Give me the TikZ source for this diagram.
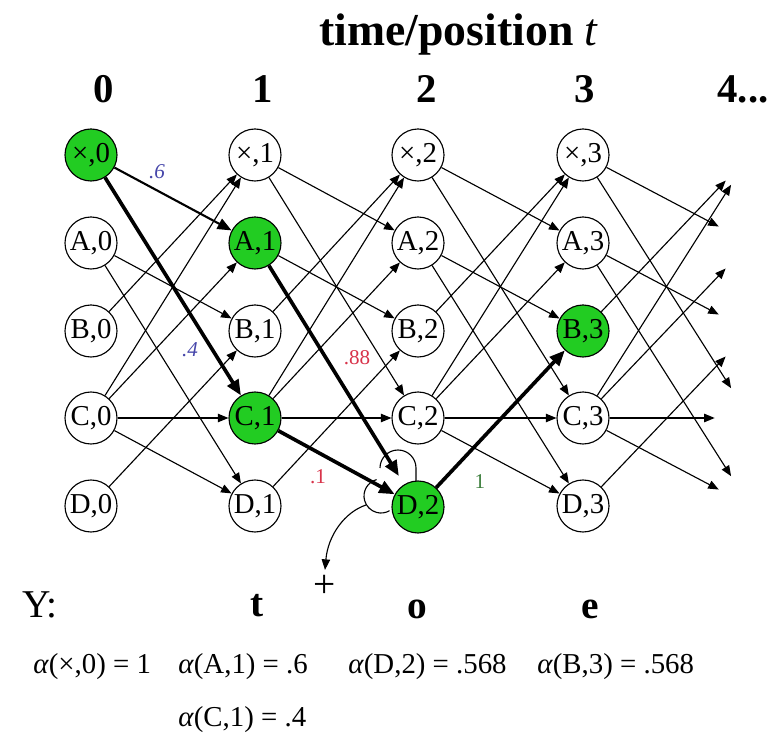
\documentclass[tikz,border=0pt]{standalone}
\usepackage{fontspec}
\setmainfont{Liberation Serif}
\usepackage{xcolor}
\definecolor{stateGreen}{HTML}{22CC22}
\definecolor{probBlue}{HTML}{4646AA}
\definecolor{probRed}{HTML}{D8334A}
\definecolor{probGreen}{HTML}{3E7F3E}
\usepackage{tikz}
\usetikzlibrary{arrows.meta}
\tikzset{
  state/.style={circle,draw,line width=0.8pt,minimum size=1.3cm,inner sep=0pt,font=\fontsize{20.5}{22}\selectfont},
  hit/.style={state,fill=stateGreen},
  ghost/.style={circle,minimum size=1.75cm,inner sep=0pt},
  edge/.style={-{Triangle[length=7.5pt,width=6pt]},line width=0.8pt},
  midedge/.style={-{Triangle[length=10pt,width=8pt]},line width=1.5pt},
  heavy/.style={-{Triangle[length=11pt,width=9pt]},line width=2.6pt},
  colnum/.style={font=\fontsize{29}{32}\selectfont\bfseries},
  problabel/.style={font=\fontsize{15}{17}\selectfont},
  obslabel/.style={font=\fontsize{28}{30}\selectfont\bfseries},
  alphalabel/.style={font=\fontsize{20.5}{22}\selectfont,anchor=west,inner sep=0pt},
}

\begin{document}
\begin{tikzpicture}[x=0.025cm,y=-0.025cm]
  \useasboundingbox (0,0) rectangle (777,740);

  \node[font=\fontsize{32.5}{36}\selectfont] (title) at (459,35) {\textbf{time/position} \textit{t}};
  \node[colnum] (c0) at (104,89) {0};
  \node[colnum] (c1) at (263,89) {1};
  \node[colnum] (c2) at (427,89) {2};
  \node[colnum] (c3) at (585,89) {3};
  \node[colnum] (c4) at (743,89) {4...};

  % merge blob behind D,2
  \draw[line width=0.8pt] (380,468) arc[start angle=180,end angle=360,radius=18] -- (416,484);
  \draw[line width=0.8pt] (376.6,479.6) arc[start angle=255,end angle=60,radius=17];
  \coordinate (blob) at (366,505);

  \node[hit]   (X0) at (91,155) {×,0};
  \node[state] (A0) at (91,243) {A,0};
  \node[state] (B0) at (91,331) {B,0};
  \node[state] (C0) at (91,418) {C,0};
  \node[state] (D0) at (91,506) {D,0};

  \node[state] (X1) at (255,155) {×,1};
  \node[hit]   (A1) at (255,243) {A,1};
  \node[state] (B1) at (255,331) {B,1};
  \node[hit]   (C1) at (255,418) {C,1};
  \node[state] (D1) at (255,506) {D,1};

  \node[state] (X2) at (418,155) {×,2};
  \node[state] (A2) at (418,243) {A,2};
  \node[state] (B2) at (418,331) {B,2};
  \node[state] (C2) at (418,418) {C,2};
  \node[hit]   (D2) at (418,507) {D,2};

  \node[state] (X3) at (583,155) {×,3};
  \node[state] (A3) at (583,243) {A,3};
  \node[hit]   (B3) at (583,331) {B,3};
  \node[state] (C3) at (583,418) {C,3};
  \node[state] (D3) at (583,506) {D,3};

  \node[ghost] (X4) at (750,155) {};
  \node[ghost] (A4) at (750,243) {};
  \node[ghost] (B4) at (750,331) {};
  \node[ghost] (C4) at (750,418) {};
  \node[ghost] (D4) at (750,506) {};

  % 0 -> 1
  \draw[midedge] (X0) -- (A1);
  \draw[heavy] (X0) -- (C1);
  \draw[edge] (A0) -- (B1);  \draw[edge] (A0) -- (D1);
  \draw[edge] (B0) -- (X1);
  \draw[edge] (C0) -- (X1);  \draw[edge] (C0) -- (A1);
  \draw[edge] (C0) -- (C1);  \draw[edge] (C0) -- (D1);
  \draw[edge] (D0) -- (B1);

  % 1 -> 2
  \draw[edge] (X1) -- (A2);  \draw[edge] (X1) -- (C2);
  \draw[edge] (A1) -- (B2);
  \draw[heavy,shorten >=7pt] (A1) -- (D2);
  \draw[edge] (B1) -- (X2);
  \draw[edge] (C1) -- (X2);  \draw[edge] (C1) -- (A2);
  \draw[edge] (C1) -- (C2);
  \draw[heavy] (C1) -- (D2);
  \draw[edge] (D1) -- (B2);

  % 2 -> 3
  \draw[edge] (X2) -- (A3);  \draw[edge] (X2) -- (C3);
  \draw[edge] (A2) -- (B3);  \draw[edge] (A2) -- (D3);
  \draw[edge] (B2) -- (X3);
  \draw[edge] (C2) -- (X3);  \draw[edge] (C2) -- (A3);
  \draw[edge] (C2) -- (C3);  \draw[edge] (C2) -- (D3);
  \draw[heavy] (D2) -- (B3);

  % 3 -> 4
  \draw[edge] (X3) -- (A4);  \draw[edge] (X3) -- (C4);
  \draw[edge] (A3) -- (B4);  \draw[edge] (A3) -- (D4);
  \draw[edge] (B3) -- (X4);
  \draw[edge] (C3) -- (X4);  \draw[edge] (C3) -- (A4);
  \draw[edge] (C3) -- (C4);  \draw[edge] (C3) -- (D4);
  \draw[edge] (D3) -- (B4);

  \node[problabel,text=probBlue]  (p6)  at (157,172) {\textit{.6}};
  \node[problabel,text=probBlue]  (p4)  at (190,350) {\textit{.4}};
  \node[problabel,text=probRed]   (p88) at (357,358) {.88};
  \node[problabel,text=probRed]   (p1)  at (318,477) {.1};
  \node[problabel,text=probGreen] (pg)  at (480,482) {1};

  \node[font=\fontsize{28}{30}\selectfont] (ylab) at (40,605) {Y:};
  \node[obslabel] (yt) at (257,606) {t};
  \node[font=\fontsize{28}{30}\selectfont] (plus) at (325,586) {+};
  \node[obslabel] (yo) at (417,609) {o};
  \node[obslabel] (ye) at (590,609) {e};
  \draw[edge] (blob) .. controls (345,512) and (328,535) .. (plus.north);

  \node[alphalabel] (al0) at (33,667)  {\textit{α}(×,0) = 1};
  \node[alphalabel] (al1) at (178,667) {\textit{α}(A,1) = .6};
  \node[alphalabel] (al2) at (348,667) {\textit{α}(D,2) = .568};
  \node[alphalabel] (al3) at (537,667) {\textit{α}(B,3) = .568};
  \node[alphalabel] (al4) at (178,720) {\textit{α}(C,1) = .4};
\end{tikzpicture}
\end{document}
